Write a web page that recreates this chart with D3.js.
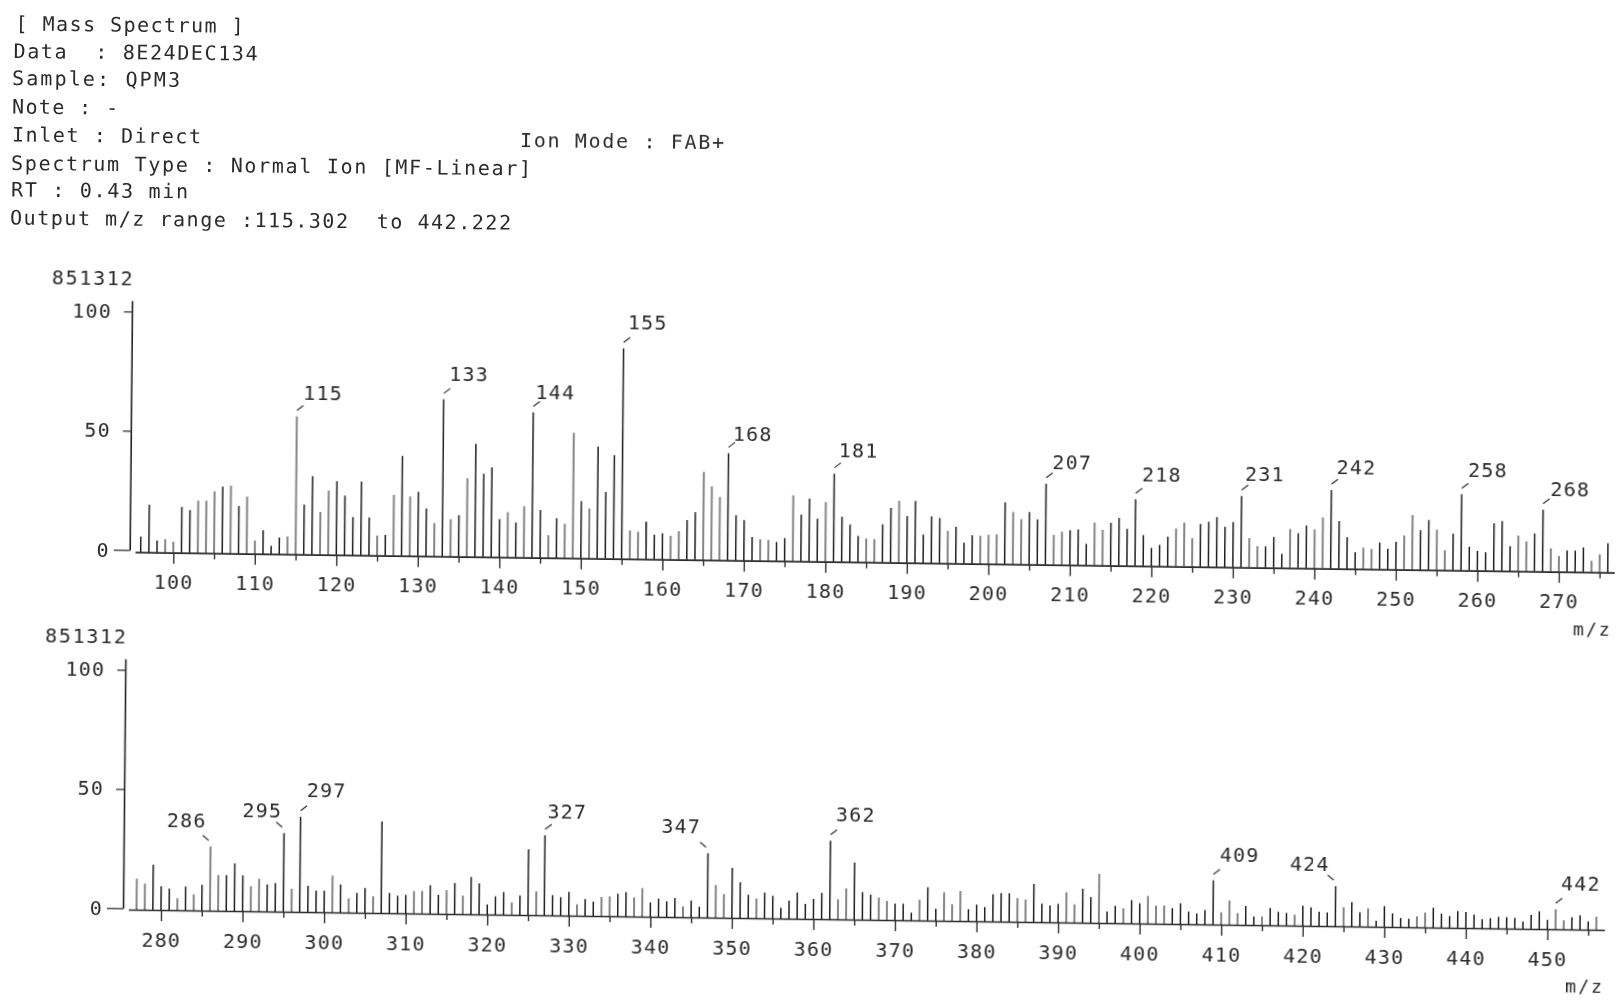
<!DOCTYPE html>
<html><head><meta charset="utf-8">
<script src="https://cdn.jsdelivr.net/npm/d3@7"></script>
<style>
html,body{margin:0;padding:0;background:#fff}
svg{display:block}
text{font-family:"DejaVu Sans Mono",monospace;fill:#2b2b2b}
</style></head><body><svg id="c" width="1616" height="1005"></svg>
<script>
// ---------- data ----------
const headerLines = ["[ Mass Spectrum ]","Data  : 8E24DEC134","Sample: QPM3","Note : -","Inlet : Direct","Ion Mode : FAB+","Spectrum Type : Normal Ion [MF-Linear]","RT : 0.43 min","Output m/z range :115.302  to 442.222"];
const basePeak = "851312";
const yTicks = [0,50,100];
const axisTitle = "m/z";

const topStart = 96;
const topValues = [6.6,20,5,5.6,4.6,19.3,18,22,22,26,28,28.5,20,24,5.6,10,3.5,7,7.5,58,21,33,18,27,31,25,16,31,16,8.4,8.7,25.6,42,25,27,20,14,66,15.7,17.4,33,47.5,35,37.7,16,19,14.7,21.6,61,20,9.5,16.7,14.4,52.7,24,21,47,28,43.5,88.4,12,11.5,15.7,10.4,11,10,12,16.7,20,37,31,26.6,45,19,17,10,9,8.8,8,9.7,27.7,19.6,26.5,18,25,37,19,15.7,11,10,9.8,16,23,26,19.6,26,12,19.7,19,13.7,15.4,8.8,12,11.8,12.3,12.5,26,22,19,22,19,34,12.6,14,14.7,15,9,18,15,18,20,15.5,28,13,7.7,9,12.5,16,18.5,12,18,19,21,17,19,30,12.4,9,9,13,6,16.4,14.7,18,16.4,21.5,33,20,13.3,7,9,8.5,11.3,8.7,11.6,14.4,23,16.7,21,17,8.4,15.4,32,10,8.3,7.8,20,21,10.5,15,12.6,16,26,9.8,6.6,9,9,10.4,4.8,7.6,12.3];
const topFaded = [99,100,103,104,105,107,109,110,114,115,118,119,125,127,129,132,134,136,141,143,146,148,149,151,156,157,161,162,165,166,167,172,173,176,180,185,186,189,195,199,200,201,203,204,208,209,213,214,223,224,225,232,233,237,240,241,246,247,251,252,255,256,265,266,269,270,274,275];
const topLabelled = [115,133,144,155,168,181,207,218,231,242,258,268];
const topLabelText = ["115","133","144","155","168","181","207","218","231","242","258","268"];
const topTicks = [100,110,120,130,140,150,160,170,180,190,200,210,220,230,240,250,260,270];

const lowStart = 277;
const lowValues = [13,11,19,10,9,5,10,6.7,10.8,27,15,15,20,15,10.5,13.7,11.3,12,33,9.7,40,11,9,9,15.4,11.8,6,8.3,10.4,7,38.4,8.5,7.4,7.8,9.4,9.5,12,8,10,13,7.8,15.7,13,4.2,7.7,9.5,5.2,8.2,27.6,10,33.6,8.5,7.7,10,4.8,7,6,8,8.3,9.5,10.2,8,12,6,7.7,6.6,8,4.5,7,4.5,27,13.7,10,21,15,9.8,8.3,10.8,9.5,4.5,7.6,11,6.3,8.4,11,33,8.4,13,24,11.6,10.6,9.4,8,6.9,6.9,3.2,8.7,14,5,12,7,12.6,5,7,6,11.5,12,12,10,9.4,16,7.8,7,7.8,12.7,7.7,14.3,10.8,20.6,4.8,7.3,6.3,9.8,8.5,11.6,7.6,7.7,6.6,8.7,5.3,4.5,6,18.6,5.2,10.2,4.9,8,3.6,3.6,7.3,5.7,5.3,4.6,8.4,7.8,6,5.7,16.8,8,10.2,6,7.7,2.5,8.7,5.7,3.8,3.6,4.6,6.2,8.3,5.9,4.9,7,6.7,5.7,3.8,4.3,4.9,4.8,4.5,3.1,5.9,7.4,3.9,8.4,3.8,5.2,6,3.5,5.5];
const lowFaded = [277,278,282,284,286,287,291,292,296,301,303,306,311,312,315,317,323,326,331,334,335,338,339,344,348,349,353,363,364,368,369,373,376,377,378,385,386,391,392,395,398,401,402,403,410,411,412,415,419,425,428,434,435,451,452,456];
const lowLabelled = [286,295,297,327,347,362,409,424,451];
const lowLabelText = ["286","295","297","327","347","362","409","424","442"];
const lowLabelsOnLeft = [286,295,347,424];
const lowTicks = [280,290,300,310,320,330,340,350,360,370,380,390,400,410,420,430,440,450];

// ---------- layout ----------
const W = 1616, H = 1005;
const slopeAlong = 0.0138, slopeUp = 0.0095;   // scan skew of the printed sheet
const svg = d3.select("#c").attr("viewBox",[0,0,W,H]);
const defs = svg.append("defs");
defs.append("filter").attr("id","soft").attr("x","-2%").attr("y","-2%").attr("width","104%").attr("height","104%")
  .append("feGaussianBlur").attr("stdDeviation",0.4);
const root = svg.append("g").attr("filter","url(#soft)");

// header
const headerLayout = [[15.5,30.5,228],[13.5,58,244],[12,85,168],[12,113.5,106],[12,141.5,189],[520,147,204],[11,170,520],[11,196.5,177],[10,224.5,501]];
headerLines.forEach((t,i)=>{
  const [x,y,len] = headerLayout[i];
  root.append("text").attr("transform",`translate(${x},${y}) rotate(0.6)`)
    .attr("font-size",20).attr("textLength",len).attr("lengthAdjust","spacing")
    .style("white-space","pre").text(t);
});

// per-label placement corrections in pixels, in label order
const topNudge = [[0,-1],[-1,-3],[-4,2],[-2,-3.5],[-2,3.5],[-2,-0.5],[0,1.5],[0,-2.5],[-3,0.5],[-1,-0.5],[0,-1.5],[1,2]];
const lowNudge = [[1,-3],[3,1],[0,-4],[-4,-1],[-2,-4],[-1,-3],[0,-3],[-1,1],[-1,-3]];

function panel(cfg){
  const g = root.append("g").attr("transform",
    `translate(${cfg.px},${cfg.py}) matrix(1,${slopeAlong},${-slopeUp},1,0,0) translate(${-cfg.px},${-cfg.py})`);
  const x = d3.scaleLinear().domain(cfg.xDomain)
    .range(cfg.xDomain.map(m=>cfg.px+(m-cfg.x0)*cfg.pxPerMz));
  const yBar = d3.scaleLinear().domain([0,100]).range([cfg.py,cfg.py-238]);
  const yAxis = d3.scaleLinear().domain([0,104.6]).range([cfg.py-cfg.zeroLift,cfg.py-cfg.zeroLift-238.5*1.046]);
  const data = cfg.values.map((v,i)=>({m:cfg.start+i,v}));

  // bars
  g.append("g").selectAll("line").data(data).join("line")
    .attr("x1",d=>x(d.m)).attr("x2",d=>x(d.m))
    .attr("y1",yBar(0)).attr("y2",d=>yBar(d.v))
    .attr("stroke",d=>cfg.faded.includes(d.m)?"#858585":"#1f1f1f")
    .attr("stroke-width",d=>cfg.faded.includes(d.m)?2:1.5);

  // x axis: minor ticks
  const minorVals = cfg.ticks.map(t=>t+5).filter(t=>t<cfg.xDomain[1]).concat(cfg.ticks[0]-5>cfg.xDomain[0]?[cfg.ticks[0]-5]:[]);
  const minor = g.append("g").attr("transform",`translate(0,${cfg.py})`)
    .call(d3.axisBottom(x).tickValues(minorVals).tickSize(6).tickSizeOuter(0).tickFormat(""));
  minor.selectAll("line").attr("stroke","#333").attr("stroke-width",1.4);
  minor.select(".domain").attr("stroke","#2a2a2a").attr("stroke-width",1.7);

  // x axis: major ticks
  const major = g.append("g").attr("transform",`translate(0,${cfg.py})`)
    .call(d3.axisBottom(x).tickValues(cfg.ticks).tickSize(11).tickSizeOuter(0).tickPadding(11.5));
  major.select(".domain").remove();
  major.selectAll("line").attr("stroke","#333").attr("stroke-width",1.4);
  major.selectAll("text").attr("font-size",20).attr("letter-spacing",1.2);

  // y axis
  const ya = g.append("g").attr("transform",`translate(${cfg.axisX},0)`)
    .call(d3.axisLeft(yAxis).tickValues(yTicks).tickSize(8).tickSizeOuter(0));
  ya.select(".domain").attr("stroke","#222").attr("stroke-width",1.6);
  ya.selectAll(".tick line").attr("stroke","#333").attr("stroke-width",1.3)
    .attr("x2",d=>d===0?-16:-8);
  ya.selectAll(".tick text").attr("x",-20).attr("font-size",20).attr("letter-spacing",1.2);

  // base-peak caption
  g.append("text").attr("x",cfg.axisX+cfg.capDx).attr("y",yAxis(100)-26)
    .attr("text-anchor","end").attr("font-size",20).attr("letter-spacing",1.7).text(basePeak);

  // axis title
  g.append("text").attr("x",x(cfg.xDomain[1])+cfg.titleDx).attr("y",cfg.py+cfg.titleDy)
    .attr("text-anchor","end").attr("font-size",18).attr("letter-spacing",2).text(axisTitle);

  // peak labels and leader ticks
  const peaks = cfg.labelled.map((m,i)=>({m,t:cfg.labelText[i],v:cfg.values[m-cfg.start],left:cfg.left.includes(m),n:cfg.nudge[i]}));
  const pl = g.append("g").selectAll("g").data(peaks).join("g")
    .attr("transform",d=>`translate(${x(d.m)},${yBar(d.v)})`);
  pl.append("line").attr("x1",d=>d.left?-2:0).attr("y1",-6)
    .attr("x2",d=>d.left?-8:6.5).attr("y2",-11)
    .attr("stroke","#333").attr("stroke-width",1.2);
  pl.append("text").attr("x",d=>(d.left?-25:26)+d.n[0]).attr("y",d=>-16+d.n[1])
    .attr("text-anchor","middle").attr("font-size",20).attr("letter-spacing",1.2).text(d=>d.t);
}

panel({px:173.3,py:552.7,x0:100,pxPerMz:8.15,xDomain:[95.3,276.8],start:topStart,values:topValues,
  faded:topFaded,labelled:topLabelled,labelText:topLabelText,left:[],nudge:topNudge,ticks:topTicks,axisX:129.7,zeroLift:2.1,capDx:2,titleDy:63,titleDx:-2});
panel({px:161,py:910,x0:280,pxPerMz:8.155,xDomain:[276,457],start:lowStart,values:lowValues,
  faded:lowFaded,labelled:lowLabelled,labelText:lowLabelText,left:lowLabelsOnLeft,nudge:lowNudge,ticks:lowTicks,axisX:123,zeroLift:1.2,capDx:2,titleDy:63,titleDx:0});
</script></body></html>
